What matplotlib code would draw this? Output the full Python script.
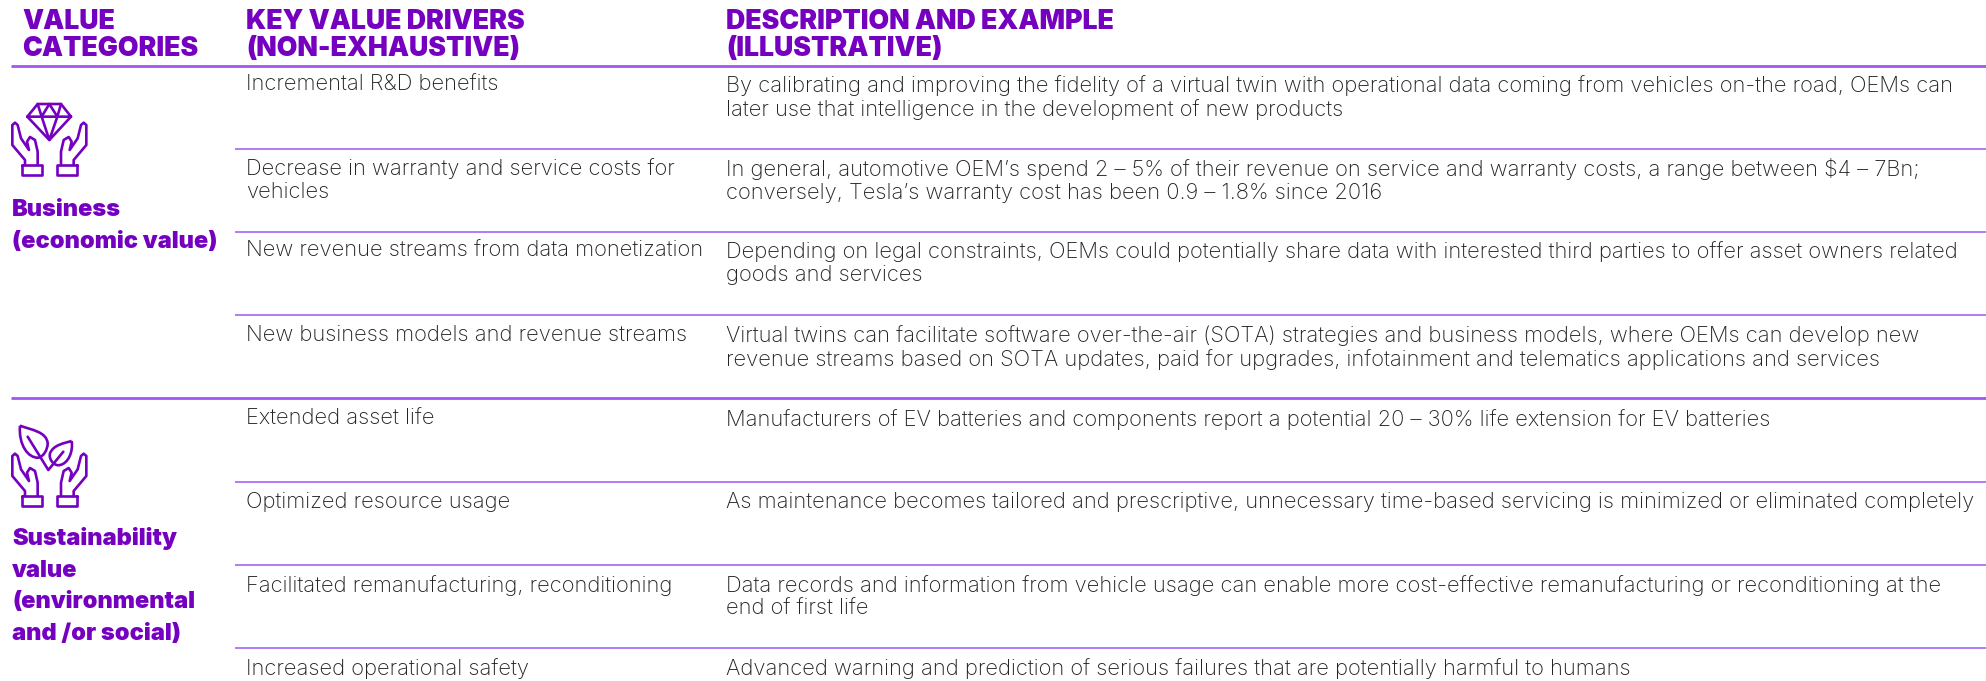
#!/usr/bin/env python3
"""Value categories table: purple headers, rules, two icon groups."""
import matplotlib
matplotlib.use("Agg")
import matplotlib.pyplot as plt
from matplotlib.path import Path
from matplotlib.patches import PathPatch

PURPLE = "#7500c0"
RULE = "#a055f5"
INK = "#222222"
FONT = "Inter"

HEADERS = ["VALUE\nCATEGORIES", "KEY VALUE DRIVERS\n(NON-EXHAUSTIVE)",
           "DESCRIPTION AND EXAMPLE\n(ILLUSTRATIVE)"]
CATEGORIES = ["Business\n(economic value)",
              "Sustainability\nvalue\n(environmental\nand /or social)"]
DRIVERS = ["Incremental R&D benefits",
           "Decrease in warranty and service costs for\nvehicles",
           "New revenue streams from data monetization",
           "New business models and revenue streams",
           "Extended asset life",
           "Optimized resource usage",
           "Facilitated remanufacturing, reconditioning",
           "Increased operational safety"]
DESCRIPTIONS = [
    "By calibrating and improving the fidelity of a virtual twin with operational data coming from vehicles on-the road, OEMs can\nlater use that intelligence in the development of new products",
    "In general, automotive OEM\u2019s spend 2 \u2013 5% of their revenue on service and warranty costs, a range between $4 \u2013 7Bn;\nconversely, Tesla\u2019s warranty cost has been 0.9 \u2013 1.8% since 2016",
    "Depending on legal constraints, OEMs could potentially share data with interested third parties to offer asset owners related\ngoods and services",
    "Virtual twins can facilitate software over-the-air (SOTA) strategies and business models, where OEMs can develop new\nrevenue streams based on SOTA updates, paid for upgrades, infotainment and telematics applications and services",
    "Manufacturers of EV batteries and components report a potential 20 \u2013 30% life extension for EV batteries",
    "As maintenance becomes tailored and prescriptive, unnecessary time-based servicing is minimized or eliminated completely",
    "Data records and information from vehicle usage can enable more cost-effective remanufacturing or reconditioning at the\nend of first life",
    "Advanced warning and prediction of serious failures that are potentially harmful to humans",
]

fig = plt.figure(figsize=(19.86, 6.81), dpi=100)
ax = fig.add_axes([0, 0, 1, 1])
ax.set_xlim(0, 1986)
ax.set_ylim(681, 0)
ax.axis("off")


def stroke(pts, ox, oy, mirror=False):
    # pts are in 3x crop pixels, ox/oy the crop origin
    xy = [((266 - x if mirror else x) / 3 + ox, y / 3 + oy) for x, y in pts]
    ax.plot(*zip(*xy), color=PURPLE, lw=1.9, solid_joinstyle="round", solid_capstyle="round")


def curve(verts, ox, oy):
    # closed-ish bezier: first point then triples
    xy = [(x / 3 + ox, y / 3 + oy) for x, y in verts]
    codes = [Path.MOVETO] + [Path.CURVE4] * (len(xy) - 1)
    ax.add_patch(PathPatch(Path(xy, codes), fc="none", ec=PURPLE, lw=1.9))


def hands(ox, oy):
    for mirror in (False, True):
        stroke([(60, 210), (60, 195), (22, 150), (22, 90), (30, 83), (38, 90), (48, 130),
                (72, 165), (66, 140), (75, 126), (90, 135), (98, 170), (98, 210)],
               ox, oy, mirror)
        stroke([(50, 210), (110, 210), (110, 240), (50, 240), (50, 210)], ox, oy, mirror)


def diamond(ox, oy):
    stroke([(67, 65), (98, 27), (168, 27), (198, 65), (133, 135), (67, 65), (198, 65)], ox, oy)
    stroke([(98, 27), (110, 65), (133, 135), (157, 65), (168, 27)], ox, oy)
    stroke([(110, 65), (133, 27), (157, 65)], ox, oy)


def leaves(ox, oy):
    curve([(45, 32), (80, 45), (125, 50), (128, 85), (128, 105), (115, 125), (100, 128),
           (70, 130), (40, 90), (45, 32)], ox, oy)
    curve([(200, 78), (175, 85), (145, 90), (135, 115), (130, 135), (150, 155), (165, 150),
           (190, 145), (205, 110), (200, 78)], ox, oy)
    stroke([(68, 65), (130, 165), (175, 110)], ox, oy)


# rules: y of thick and thin ones, in pixels
for y in (66, 398):
    ax.plot([11, 1986], [y, y], color=RULE, lw=2.0, solid_capstyle="butt")
for y in (149, 232, 315, 482, 565, 648):
    ax.plot([235, 1986], [y, y], color=RULE, lw=1.1, solid_capstyle="butt")

for x, h in zip((22, 246, 726), HEADERS):
    ax.text(x, 9, h, color=PURPLE, fontsize=19.2, fontweight="black",
            family=FONT, va="top", linespacing=1.04)

row_tops = (75, 158, 241, 325, 409, 492, 575, 658)
for y, d, desc in zip(row_tops, DRIVERS, DESCRIPTIONS):
    ax.text(246, y, d, color=INK, fontsize=15.8, fontweight="light", family=FONT,
            va="top", linespacing=1.187)
    ax.text(726, y, desc, color=INK, fontsize=15.8, fontweight="light", family=FONT,
            va="top", linespacing=1.187)

ax.text(12, 199, CATEGORIES[0], color=PURPLE, fontsize=17, fontweight="black",
        family=FONT, va="top", linespacing=1.56)
ax.text(12, 527, CATEGORIES[1], color=PURPLE, fontsize=17, fontweight="black",
        family=FONT, va="top", linespacing=1.56)

hands(5, 95)
diamond(5, 95)
hands(5, 426)
leaves(5, 415)

fig.savefig("out.png", dpi=100)
